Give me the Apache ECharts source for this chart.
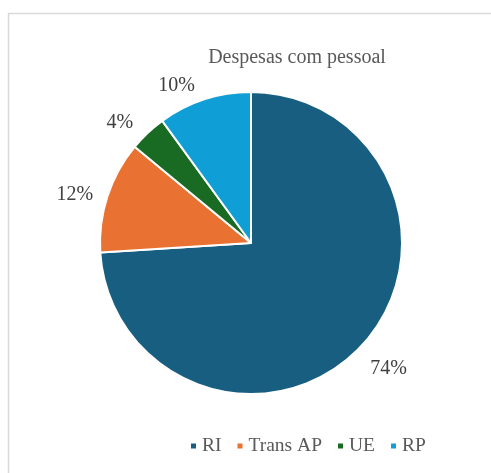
<!DOCTYPE html>
<html>
<head>
<meta charset="utf-8">
<script src="https://cdn.jsdelivr.net/npm/echarts@6/dist/echarts.min.js"></script>
<style>
  html, body { margin: 0; padding: 0; background: #fff; }
  #chart { width: 491px; height: 473px; }
</style>
</head>
<body>
<div id="chart"></div>
<script>
var categories = ["RI", "Trans AP", "UE", "RP"];
var values = [74, 12, 4, 10];
var colors = ["#175E80", "#E97132", "#196B24", "#0F9ED5"];

var chart = echarts.init(document.getElementById("chart"));

var option = {
  backgroundColor: "#ffffff",
  animation: false,
  graphic: [
    {
      type: "rect",
      shape: { x: 8.5, y: 13.5, width: 500, height: 500 },
      style: { fill: "none", stroke: "#d9d9d9", lineWidth: 1.5 },
      silent: true
    }
  ],
  title: {
    text: "Despesas com pessoal",
    left: 292,
    top: 43,
    textAlign: "center",
    textStyle: {
      fontFamily: "Liberation Serif",
      fontSize: 20,
      fontWeight: "normal",
      color: "#595959"
    }
  },
  legend: {
    data: categories,
    left: 184,
    top: 431,
    itemWidth: 7,
    itemHeight: 7,
    itemGap: 14,
    icon: "rect",
    textStyle: {
      fontFamily: "Liberation Serif",
      fontSize: 19.5,
      color: "#595959"
    }
  },
  series: [
    {
      type: "pie",
      center: [251, 243],
      radius: 151,
      startAngle: 90,
      clockwise: true,
      color: colors,
      itemStyle: { borderColor: "#ffffff", borderWidth: 2 },
      label: {
        show: true,
        position: "outside",
        formatter: "{d}%",
        fontFamily: "Liberation Serif",
        fontSize: 20,
        color: "#404040"
      },
      labelLine: { show: false, length: 14, length2: 0 },
      labelLayout: function (params) {
        if (params.dataIndex === 0) {
          return { dx: -6, dy: 13 };
        }
        if (params.dataIndex === 1) {
          return { dx: 4, dy: 3 };
        }
        return {};
      },
      data: categories.map(function (name, i) {
        return { name: name, value: values[i] };
      })
    }
  ]
};

chart.setOption(option);
</script>
</body>
</html>
